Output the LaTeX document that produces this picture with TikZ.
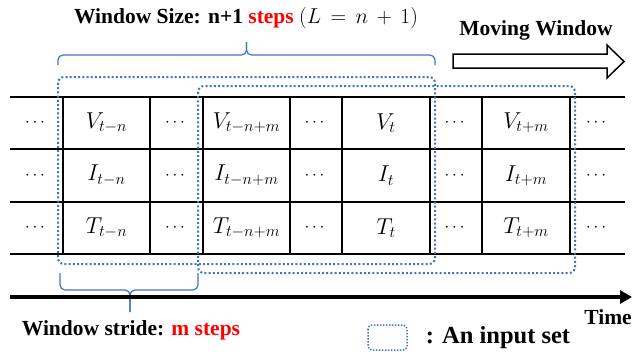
\RequirePackage{fix-cm}
\documentclass[tikz,border=0pt]{standalone}
\usepackage{fontspec}
\setmainfont{Liberation Serif}
\usepackage{amsmath}
\usetikzlibrary{arrows.meta,positioning,calc}
\definecolor{winblue}{HTML}{4472C4}
\tikzset{
  grid/.style={draw=black, line width=1.1pt},
  window/.style={draw=winblue, line width=2pt, dash pattern=on 2pt off 2.2pt, rounded corners=6pt},
  brace/.style={draw=winblue, line width=1.2pt, rounded corners=5pt},
  timeaxis/.style={-{Triangle[length=12pt,width=13pt]}, line width=3.5pt},
  label/.style={font=\fontsize{21.5}{25}\selectfont\bfseries, inner sep=0pt},
  cell/.style={font=\fontsize{23}{26}\selectfont, inner sep=0pt},
  gap/.style={font=\fontsize{17}{20}\selectfont, inner sep=0pt}
}

\begin{document}
\begin{tikzpicture}[x=1pt,y=-1pt]
  \useasboundingbox (0,0) rectangle (634,354);
  % table of samples
  \foreach \y in {97,149,202,254}{\draw[grid] (10,\y)--(625,\y);}
  \foreach \x in {63,150,203,290,342,482}{\draw[grid] (\x,97)--(\x,254);}
  \foreach \x in {430,570}{\draw[grid, line width=1.8pt] (\x,97)--(\x,254);}
  \foreach \v [count=\r] in {V,I,T}{
    \foreach \xc [count=\c] in {36.5,176.5,316,456,597.5}
      \node[gap] (d\r\c) at (\xc,{70.5+52.5*\r}) {$\cdots$};
    \foreach \xc/\s [count=\c] in {106.5/t-n,246.5/t-n+m,386/t,526/t+m}
      \node[cell] (\v\c) at (\xc,{70.5+52.5*\r}) {$\v_{\s}$};
  }
  % input sets
  \draw[window] (58,77) rectangle (435,264);
  \draw[window] (198,86) rectangle (575,273);
  \coordinate (topL) at (58,65);
  \coordinate (topR) at (435,65);
  \coordinate (topTip) at (246.5,42);
  \draw[brace] (topL) |- (topTip |- 0,55) -- (topTip);
  \draw[brace] (topR) |- (topTip |- 0,55) -- (topTip);
  \coordinate (botL) at (60,273);
  \coordinate (botR) at (198,273);
  \coordinate (botTip) at (130,312);
  \draw[brace] (botL) |- (botTip |- 0,290) -- (botTip);
  \draw[brace] (botR) |- (botTip |- 0,290) -- (botTip);
  % time axis and moving window
  \draw[timeaxis] (10,297) -- (632,297);
  \draw[line width=1.5pt] (453,54) -- (607,54) -- (607,45) -- (624,61.5) -- (607,78) -- (607,68) -- (453,68) -- cycle;
  % texts
  \node[label] (title) at (246,18) {Window Size: n+1 \textcolor{red}{steps} \mdseries$(L\,=\,n\,+\,1)$};
  \node[label] (moving) at (536,30) {Moving Window};
  \node[label] (time) at (608,317) {Time};
  \node[label] (stride) at (131,330) {Window stride: \textcolor{red}{m steps}};
  \draw[window, line width=1.5pt, dash pattern=on 1.5pt off 1.5pt, rounded corners=4pt] (368,325) rectangle (407,350);
  \node[label, font=\fontsize{24.5}{28}\selectfont\bfseries] (legend) at (498,338) {: An input set};
\end{tikzpicture}
\end{document}
